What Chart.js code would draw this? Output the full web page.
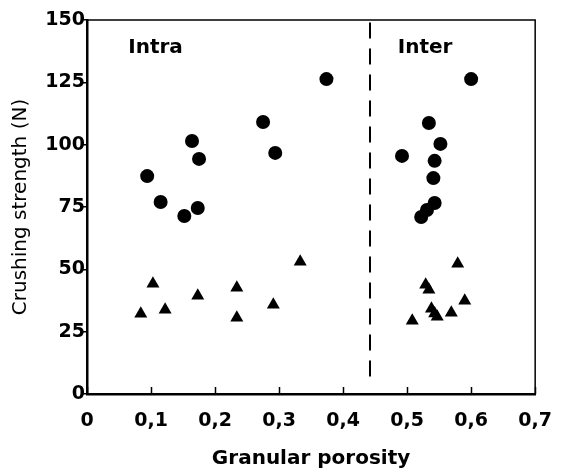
<!DOCTYPE html>
<html>
<head>
<meta charset="utf-8">
<script src="https://cdn.jsdelivr.net/npm/chart.js@4"></script>
<style>
    body { margin: 0; background: #fff; }
    #wrap { width: 568px; height: 468px; position: relative; }
</style>
</head>
<body>
<div id="wrap"><canvas id="chart"></canvas></div>
<script>
// Granule crushing strength vs granular porosity
const xTickValues = [0, 0.1, 0.2, 0.3, 0.4, 0.5, 0.6, 0.7];
const xTickLabels = ['0', '0,1', '0,2', '0,3', '0,4', '0,5', '0,6', '0,7'];
const yTickValues = [0, 25, 50, 75, 100, 125, 150];

// circles
const circleX = [0.094, 0.115, 0.152, 0.173, 0.164, 0.175, 0.275, 0.294, 0.374,
                 0.492, 0.534, 0.552, 0.543, 0.541, 0.543, 0.531, 0.522, 0.600];
const circleY = [87.4, 77.0, 71.4, 74.6, 101.5, 94.3, 109.1, 96.7, 126.3,
                 95.5, 108.7, 100.3, 93.5, 86.6, 76.6, 73.8, 71.0, 126.3];

// triangles
const triangleX = [0.084, 0.103, 0.122, 0.173, 0.234, 0.234, 0.291, 0.333,
                   0.508, 0.529, 0.534, 0.538, 0.543, 0.547, 0.569, 0.579, 0.590];
const triangleY = [32.2, 44.2, 33.8, 39.4, 42.6, 30.6, 35.8, 53.0,
                   29.4, 43.8, 41.8, 34.2, 32.3, 31.0, 32.6, 52.2, 37.4];

// dashed divider between the two regions
const dividerX = [0.442, 0.442];
const dividerY = [149, 6.4];

const regionLabels = ['Intra', 'Inter'];
const regionLabelX = [0.107, 0.528];
const regionLabelY = [138.8, 138.8];

function toPoints(xs, ys) {
    return xs.map((x, i) => ({ x: x, y: ys[i] }));
}

// frame lines, inward x ticks and region labels
const extrasPlugin = {
    id: 'extras',
    afterDraw(chart) {
        const ctx = chart.ctx;
        const area = chart.chartArea;
        const xs = chart.scales.x;
        const ys = chart.scales.y;
        ctx.save();
        ctx.strokeStyle = '#000';
        ctx.lineWidth = 1.5;
        ctx.beginPath();
        ctx.moveTo(area.left, area.top);
        ctx.lineTo(area.right, area.top);
        ctx.lineTo(area.right, area.bottom);
        ctx.stroke();

        xTickValues.forEach(v => {
            const px = Math.round(xs.getPixelForValue(v)) + 0.5;
            ctx.beginPath();
            ctx.moveTo(px, area.bottom);
            ctx.lineTo(px, area.bottom - 7);
            ctx.stroke();
        });

        ctx.fillStyle = '#000';
        ctx.font = 'bold 20px "DejaVu Sans"';
        ctx.textAlign = 'center';
        ctx.textBaseline = 'middle';
        regionLabels.forEach((t, i) => {
            ctx.fillText(t, xs.getPixelForValue(regionLabelX[i]), ys.getPixelForValue(regionLabelY[i]));
        });
        ctx.restore();
    }
};

Chart.defaults.font.family = '"DejaVu Sans", sans-serif';
Chart.defaults.color = '#000';

const ctx = document.getElementById('chart').getContext('2d');
new Chart(ctx, {
    type: 'scatter',
    data: {
        datasets: [
            {
                label: 'circles',
                data: toPoints(circleX, circleY),
                pointStyle: 'circle',
                pointRadius: 7,
                backgroundColor: '#000',
                borderColor: '#000',
                borderWidth: 0
            },
            {
                label: 'triangles',
                data: toPoints(triangleX, triangleY),
                pointStyle: 'triangle',
                pointRadius: 7.5,
                backgroundColor: '#000',
                borderColor: '#000',
                borderWidth: 0
            },
            {
                type: 'line',
                label: 'divider',
                data: toPoints(dividerX, dividerY),
                borderColor: '#000',
                borderWidth: 2,
                borderDash: [16, 10],
                pointRadius: 0,
                fill: false
            }
        ]
    },
    options: {
        responsive: true,
        maintainAspectRatio: false,
        animation: false,
        layout: { padding: { top: 20, right: 18, left: 0, bottom: 0 } },
        plugins: {
            legend: { display: false },
            tooltip: { enabled: false }
        },
        scales: {
            x: {
                type: 'linear',
                min: 0,
                max: 0.7,
                afterBuildTicks: scale => { scale.ticks = xTickValues.map(v => ({ value: v })); },
                afterFit: scale => { scale.height = 74; },
                border: { display: true, color: '#000', width: 2.5 },
                grid: { display: true, drawOnChartArea: false, drawTicks: false },
                ticks: {
                    padding: 16,
                    maxRotation: 0,
                    autoSkip: false,
                    font: { size: 19, weight: 'bold' },
                    callback: (v, i) => xTickLabels[i]
                },
                title: {
                    display: true,
                    text: 'Granular porosity',
                    font: { size: 20, weight: 'bold' },
                    padding: { top: 0, bottom: -3 }
                }
            },
            y: {
                type: 'linear',
                min: 0,
                max: 150,
                afterBuildTicks: scale => { scale.ticks = yTickValues.map(v => ({ value: v })); },
                afterFit: scale => { scale.width = 87; },
                border: { display: true, color: '#000', width: 2.5 },
                grid: { display: true, drawOnChartArea: false, drawTicks: true, tickLength: 5, color: '#000', lineWidth: 1.5 },
                ticks: {
                    padding: -3,
                    font: { size: 19, weight: 'bold' }
                },
                title: {
                    display: true,
                    text: 'Crushing strength (N)',
                    font: { size: 20 },
                    padding: { top: 9, bottom: 0 }
                }
            }
        }
    },
    plugins: [extrasPlugin]
});
</script>
</body>
</html>
